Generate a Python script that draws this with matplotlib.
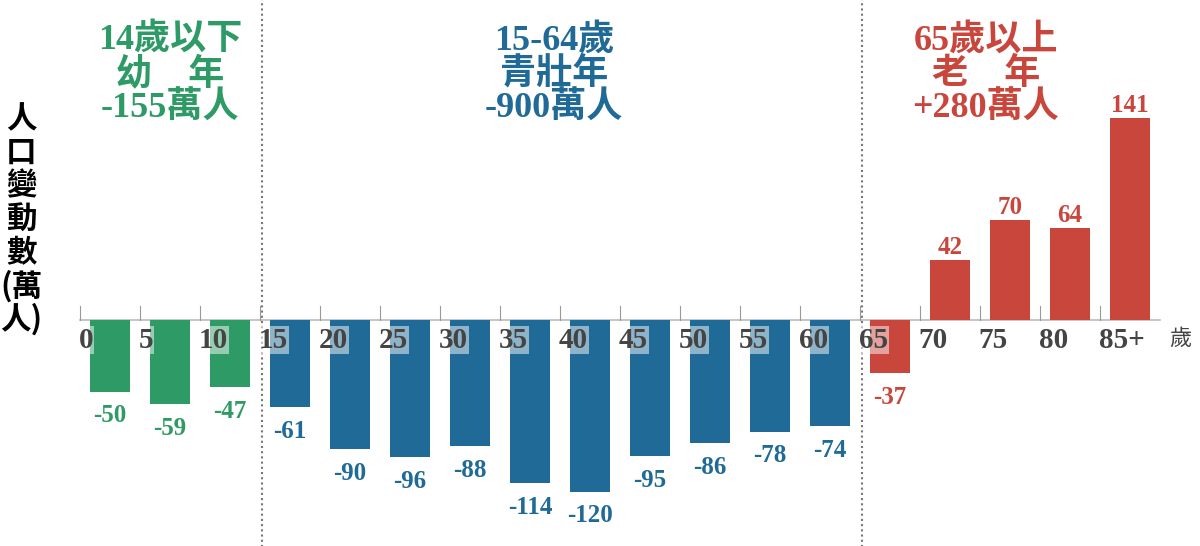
import matplotlib.pyplot as plt

ages = [0, 5, 10, 15, 20, 25, 30, 35, 40, 45, 50, 55, 60, 65, 70, 75, 80, 85]
values = [-50, -59, -47, -61, -90, -96, -88, -114, -120, -95, -86, -78, -74, -37, 42, 70, 64, 141]
tick_labels = ['0', '5', '10', '15', '20', '25', '30', '35', '40', '45', '50', '55', '60', '65', '70', '75', '80', '85+']
groups = [('14歲以下\n幼　年\n-155萬人', 7.5), ('15-64歲\n青壯年\n-900萬人', 39.5), ('65歲以上\n老　年\n+280萬人', 75.5)]

GREEN, BLUE, RED = '#2e9a66', '#1f6a96', '#c9463d'
def color_for(a):
    return GREEN if a < 15 else (BLUE if a < 65 else RED)

FAM = ['Liberation Serif', 'Noto Sans CJK TC']

fig = plt.figure(figsize=(12, 5.46), dpi=100)
ax = fig.add_axes([0, 0, 1, 1])
ax.set_xlim(-80 / 12, 1120 / 12)
ax.set_ylim(-226 / 1.43, 320 / 1.43)
ax.axis('off')

# axis line and ticks
ax.plot([0, 90], [0, 0], color='#bbbbbb', lw=1.2, zorder=1)
for a in ages:
    ax.plot([a, a], [0, 10], color='#999999', lw=0.8, zorder=1)

for a, v in zip(ages, values):
    c = color_for(a)
    ax.bar(a + 2.5, v, width=40 / 12, color=c, zorder=2)
    off = 9 if v > 0 else -17
    ax.text(a + 2.5, v + off, str(v), color=c, ha='center', va='center',
            fontsize=18, fontweight='bold', family=FAM)

for a, lab in zip(ages, tick_labels):
    ax.text(a - 0.1, -14, lab, color='#444444', ha='left', va='center', fontsize=21,
            fontweight='bold', family=FAM, zorder=3,
            bbox=dict(facecolor='white', alpha=0.5, edgecolor='none', pad=0.5))
ax.text(90.8, -14, '歲', color='#444444', ha='left', va='center', fontsize=16, family=FAM)

for x in (15, 65):
    ax.plot([x + 0.15, x + 0.15], [-160, 230], color='#777777', lw=1.5, ls=(0, (1, 1.5)), zorder=0)

for (txt, x), c in zip(groups, (GREEN, BLUE, RED)):
    ax.text(x, 224 - 75 / 1.43, txt, color=c, ha='center', va='center', fontsize=26,
            fontweight='bold', family=FAM, linespacing=1.0)

ax.text(-4.9, 70, '\n'.join('人口變動數') + '\n(萬\n人)', ha='center', va='center',
        fontsize=22, fontweight='bold', family=['Noto Sans CJK TC'], linespacing=1.05)

fig.savefig('out.png', dpi=100)
